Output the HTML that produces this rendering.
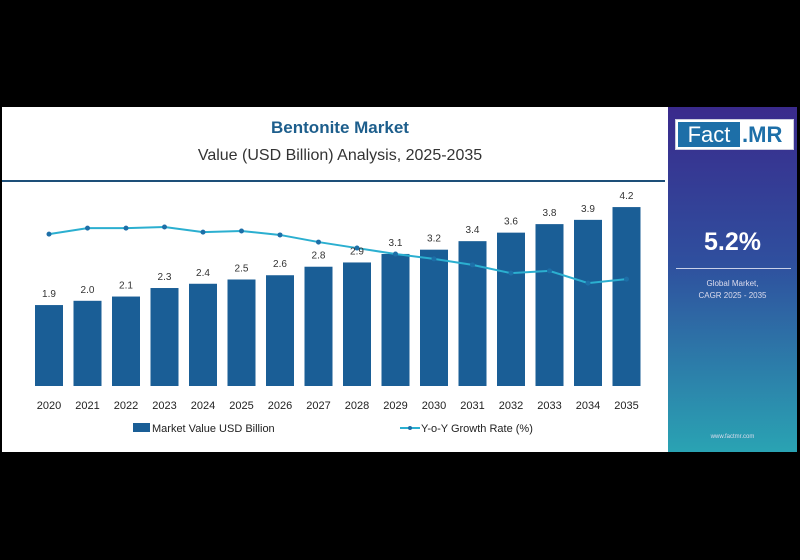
<!DOCTYPE html>
<html><head><meta charset="utf-8"><style>
body{margin:0;background:#000;width:800px;height:560px;overflow:hidden;font-family:"Liberation Sans",sans-serif}
#card{position:absolute;left:2px;top:107px;width:666px;height:345px;background:#fff}
#panel{position:absolute;left:668px;top:107px;width:129px;height:345px;background:linear-gradient(180deg,#3a2a8c 0%,#2f4f9e 45%,#2aa3b3 100%)}
</style></head><body>
<div id="card"></div>
<div id="panel">
 <div style="position:absolute;left:7px;top:12px;width:117px;height:29px;background:#fff;border:1px solid #ccd">
  <div style="position:absolute;left:2px;top:2px;width:62px;height:25px;background:#1d6fa8;color:#fff;font-size:22px;line-height:25px;text-align:center">Fact</div>
  <div style="position:absolute;left:66px;top:2px;color:#1d6fa8;font-size:22px;line-height:25px;font-weight:bold">.MR</div>
 </div>
 <div style="position:absolute;left:0;width:129px;top:121px;text-align:center;color:#fff;font-size:25px;font-weight:bold">5.2%</div>
 <div style="position:absolute;left:8px;width:115px;top:161px;height:1px;background:#c8d0e8"></div>
 <div style="position:absolute;left:0;width:129px;top:171px;text-align:center;color:#dde;font-size:8px;line-height:12px">Global Market,<br>CAGR 2025 - 2035</div>
 <div style="position:absolute;left:0;width:129px;top:327px;text-align:center;color:#dde;font-size:6px">www.factmr.com</div>
</div>
<svg id="chart" width="800" height="560" style="position:absolute;left:0;top:0">
 <text x="340" y="133" text-anchor="middle" font-size="17" font-weight="bold" fill="#1d5e8c">Bentonite Market</text>
 <text x="340" y="160" text-anchor="middle" font-size="16" fill="#333">Value (USD Billion) Analysis, 2025-2035</text>
 <rect x="2" y="180" width="663" height="2" fill="#1d4f78"/>
 <g id="bars"></g><g id="line"></g><g id="labels"></g>
 <rect x="133" y="423" width="17" height="9" fill="#1a5e96"/>
 <text x="152" y="432" font-size="11" fill="#222">Market Value USD Billion</text>
 <line x1="400" y1="428" x2="420" y2="428" stroke="#2bafd0" stroke-width="2"/>
 <circle cx="410" cy="428" r="2" fill="#1d6fa8"/>
 <text x="421" y="432" font-size="11" fill="#222">Y-o-Y Growth Rate (%)</text>
</svg>
<script>
const years=["2020","2021","2022","2023","2024","2025","2026","2027","2028","2029","2030","2031","2032","2033","2034","2035"];
const marketValue=[1.9,2.0,2.1,2.3,2.4,2.5,2.6,2.8,2.9,3.1,3.2,3.4,3.6,3.8,3.9,4.2];
const valueLabels=["1.9","2.0","2.1","2.3","2.4","2.5","2.6","2.8","2.9","3.1","3.2","3.4","3.6","3.8","3.9","4.2"];
const growthRate=[5.33,5.54,5.54,5.58,5.40,5.44,5.30,5.05,4.84,4.63,4.46,4.25,3.96,4.04,3.61,3.75];
const NS="http://www.w3.org/2000/svg";
const base=386;
function xPos(i){return 49+i*38.5;}
function yVal(v){return base-v*42.6;}
function yRate(r){return base-r*28.5;}
const gB=document.getElementById('bars'),gL=document.getElementById('line'),gT=document.getElementById('labels');
function mk(t,a){const e=document.createElementNS(NS,t);for(const k in a)e.setAttribute(k,a[k]);return e;}
years.forEach((y,i)=>{
 const r=mk('rect',{x:xPos(i)-14,y:yVal(marketValue[i]),width:28,height:base-yVal(marketValue[i]),fill:'#1a5e96'});
 
 
 gB.appendChild(r);
 const t=mk('text',{x:xPos(i),y:yVal(marketValue[i])-8,'text-anchor':'middle','font-size':'10',fill:'#333'});
 t.textContent=valueLabels[i];
 
 
 gT.appendChild(t);
 const x=mk('text',{x:xPos(i),y:409,'text-anchor':'middle','font-size':'11',fill:'#222'});
 x.textContent=y;
 
 
 gT.appendChild(x);
});
const pl=mk('polyline',{points:growthRate.map((r,i)=>xPos(i)+','+yRate(r)).join(' '),fill:'none',stroke:'#2bafd0','stroke-width':2});


gL.appendChild(pl);
growthRate.forEach((r,i)=>{
 const c=mk('circle',{cx:xPos(i),cy:yRate(r),r:2.5,fill:'#1d6fa8'});
 
 
 gL.appendChild(c);
});
</script>
</body></html>
